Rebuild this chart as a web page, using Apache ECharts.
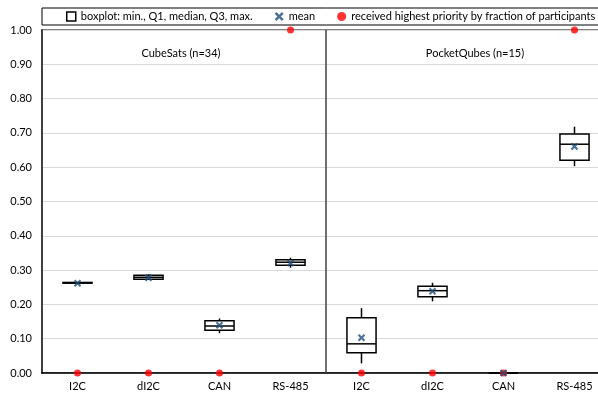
<!DOCTYPE html>
<html>
<head>
<meta charset="utf-8">
<script src="https://cdn.jsdelivr.net/npm/echarts@6/dist/echarts.min.js"></script>
<style>html,body{margin:0;padding:0;background:#fff;overflow:hidden;width:598px;height:396px;}#c{width:612px;height:396px;}</style>
</head>
<body>
<div id="c"></div>
<script>
// ---- data ----
const categories = ['I2C', 'dI2C', 'CAN', 'RS-485', 'I2C', 'dI2C', 'CAN', 'RS-485'];
const groupLabels = ['CubeSats (n=34)', 'PocketQubes (n=15)'];
// [min, Q1, median, Q3, max]
const boxMin    = [0.261, 0.271, 0.116, 0.307, 0.028, 0.209, 0.0, 0.603];
const boxQ1     = [0.262, 0.273, 0.125, 0.314, 0.059, 0.222, 0.0, 0.620];
const boxMedian = [0.263, 0.279, 0.137, 0.323, 0.085, 0.240, 0.0, 0.667];
const boxQ3     = [0.264, 0.285, 0.152, 0.330, 0.161, 0.253, 0.0, 0.697];
const boxMax    = [0.265, 0.287, 0.159, 0.336, 0.189, 0.263, 0.0, 0.718];
const meanValues = [0.262, 0.278, 0.139, 0.321, 0.103, 0.238, 0.0, 0.660];
const topPriority = [0, 0, 0, 1.0, 0, 0, 0, 1.0];
const groupSplitAt = 4; // boundary between the two groups (category units)

const seriesNames = ['boxplot: min., Q1, median, Q3, max.', 'mean', 'received highest priority by fraction of participants'];

const boxData = categories.map((c, i) => [i, boxMin[i], boxQ1[i], boxMedian[i], boxQ3[i], boxMax[i]]);
const xMark = 'path://M0,2L2,0L5,3L8,0L10,2L7,5L10,8L8,10L5,7L2,10L0,8L3,5Z';
const FONT = 'Lato';

function renderBox(params, api) {
  const i = api.value(0);
  const pMin = api.coord([i, api.value(1)]);
  const pQ1 = api.coord([i, api.value(2)]);
  const pMed = api.coord([i, api.value(3)]);
  const pQ3 = api.coord([i, api.value(4)]);
  const pMax = api.coord([i, api.value(5)]);
  const w = api.size([1, 0])[0] * 0.41;
  const x = pQ1[0];
  const st = {stroke: '#000', lineWidth: 1.5, fill: null};
  return {
    type: 'group',
    children: [
      {type: 'line', shape: {x1: x, y1: pMin[1], x2: x, y2: pQ1[1]}, style: st},
      {type: 'line', shape: {x1: x, y1: pQ3[1], x2: x, y2: pMax[1]}, style: st},
      {type: 'rect', shape: {x: x - w / 2, y: pQ3[1], width: w, height: pQ1[1] - pQ3[1]},
       style: {stroke: '#000', lineWidth: 1.5, fill: '#fff'}},
      {type: 'line', shape: {x1: x - w / 2, y1: pMed[1], x2: x + w / 2, y2: pMed[1]}, style: st}
    ]
  };
}

const chart = echarts.init(document.getElementById('c'), null, {renderer: 'canvas'});
chart.setOption({
  animation: false,
  backgroundColor: '#ffffff',
  textStyle: {fontFamily: FONT},
  title: [
    {text: groupLabels[0], left: 176, top: 43, textAlign: 'center',
     textStyle: {fontSize: 11, fontWeight: 'normal', color: '#000', fontFamily: FONT}},
    {text: groupLabels[1], left: 470, top: 43, textAlign: 'center',
     textStyle: {fontSize: 11, fontWeight: 'normal', color: '#000', fontFamily: FONT}}
  ],
  legend: {
    top: 8, left: 42,
    width: 560,
    padding: [3, 16, 3, 24],
    itemGap: 22,
    itemWidth: 9, itemHeight: 9,
    borderColor: '#000', borderWidth: 1,
    textStyle: {fontSize: 11, color: '#000', fontFamily: FONT},
    data: [
      {name: seriesNames[0], icon: 'rect', itemStyle: {color: '#fff', borderColor: '#000', borderWidth: 1.5}},
      {name: seriesNames[1], icon: xMark, itemStyle: {color: '#1F4E79'}},
      {name: seriesNames[2], icon: 'circle', itemStyle: {color: '#FF0000'}}
    ]
  },
  grid: {left: 42, top: 30, width: 568, height: 343, show: true, borderColor: '#808080', borderWidth: 2},
  xAxis: [{
    type: 'category',
    data: categories,
    boundaryGap: true,
    axisLine: {show: true, lineStyle: {color: '#000', width: 1.5}},
    axisTick: {show: false},
    axisLabel: {color: '#000', fontSize: 11, margin: 8, interval: 0, fontFamily: FONT},
    splitLine: {show: false}
  }, {
    type: 'value', show: false, min: 0, max: categories.length
  }],
  yAxis: {
    type: 'value',
    min: 0, max: 1, interval: 0.1,
    axisLine: {show: true, lineStyle: {color: '#404040', width: 2}},
    axisTick: {show: false},
    axisLabel: {color: '#000', fontSize: 11, margin: 10, fontFamily: FONT,
      formatter: (v) => v.toFixed(2)},
    splitLine: {show: true, lineStyle: {color: '#d9d9d9', width: 1}}
  },
  series: [
    {
      name: seriesNames[0], type: 'custom', data: boxData,
      renderItem: renderBox,
      encode: {x: 0, y: [1, 2, 3, 4, 5]},
      itemStyle: {color: '#fff', borderColor: '#000', borderWidth: 1.5},
      silent: true, z: 3
    },
    {
      name: seriesNames[2], type: 'scatter', data: topPriority,
      symbol: 'circle', symbolSize: 7,
      itemStyle: {color: '#FF0000'}, z: 5, clip: false
    },
    {
      name: seriesNames[1], type: 'scatter', data: meanValues,
      symbol: xMark, symbolSize: 7.5,
      itemStyle: {color: '#1F4E79'}, z: 6, clip: false
    },
    {
      name: 'divider', type: 'scatter', xAxisIndex: 1, data: [],
      markLine: {
        silent: true, symbol: ['none', 'none'], label: {show: false},
        lineStyle: {color: '#404040', width: 1.5, type: 'solid'},
        data: [{xAxis: groupSplitAt}]
      }, z: 2
    }
  ]
});
</script>
</body>
</html>
